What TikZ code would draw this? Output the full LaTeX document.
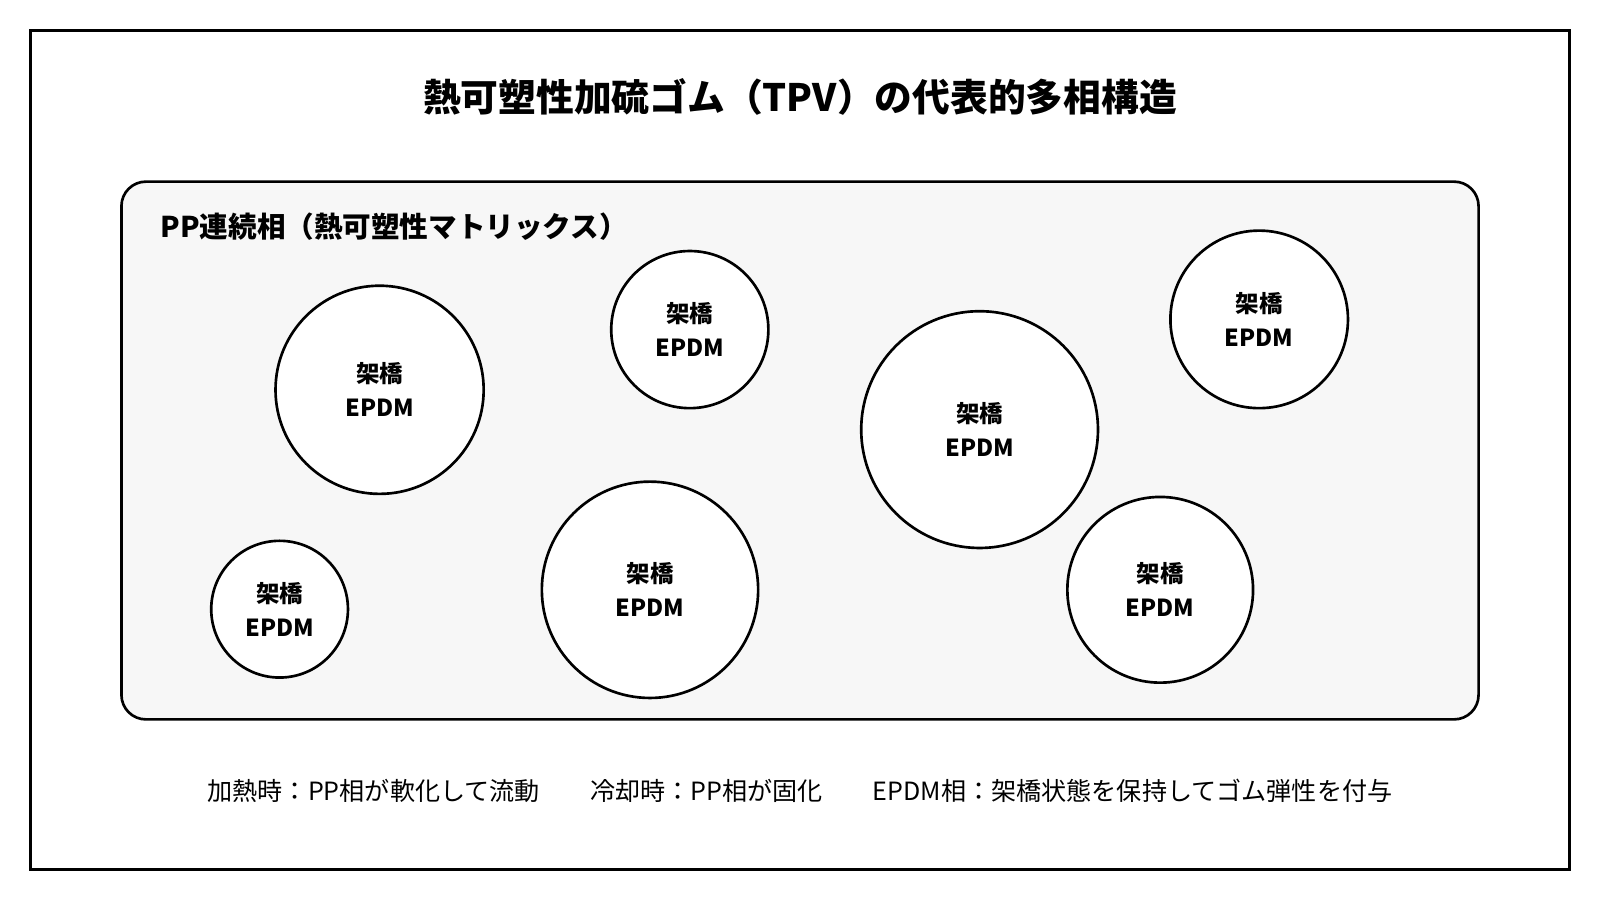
\documentclass[tikz,border=0pt]{standalone}
\usepackage{fontspec}
\setmainfont{Noto Sans CJK JP}
\begin{document}
\begin{tikzpicture}[x=0.5pt,y=-0.5pt,thick,
  grain/.style={draw,line width=1.3pt,fill=white,circle,inner sep=0pt,align=center,text depth=-8pt,font=\fontsize{11.5}{16.5}\selectfont\bfseries}]

\useasboundingbox (0,0) rectangle (1568,882);

% frame and title
\draw[line width=1.3pt] (30,30) rectangle (1538,852);
\node[font=\fontsize{18.5}{22}\selectfont\bfseries] (title) at (784,95) {熱可塑性加硫ゴム（TPV）の代表的多相構造};

% matrix phase
\draw[line width=1.3pt,fill=black!3,rounded corners=12pt] (119,178) rectangle (1449,705);
\node[anchor=west,font=\fontsize{14}{16}\selectfont\bfseries] (matrix) at (150,222) {PP連続相（熱可塑性マトリックス）};

% rubber particles
\node[grain,minimum size=102pt] (p1) at (372,382) {架橋\\EPDM};
\node[grain,minimum size=77pt] (p2) at (676,323) {架橋\\EPDM};
\node[grain,minimum size=116pt] (p3) at (960,421) {架橋\\EPDM};
\node[grain,minimum size=87pt] (p4) at (1234,313) {架橋\\EPDM};
\node[grain,minimum size=67pt] (p5) at (274,597) {架橋\\EPDM};
\node[grain,minimum size=106pt] (p6) at (637,578) {架橋\\EPDM};
\node[grain,minimum size=91pt] (p7) at (1137,578) {架橋\\EPDM};

% notes
\node[font=\fontsize{12.3}{14}\selectfont] (note) at (784,775) {加熱時：PP相が軟化して流動\hspace{2em}冷却時：PP相が固化\hspace{2em}EPDM相：架橋状態を保持してゴム弾性を付与};

\end{tikzpicture}
\end{document}
